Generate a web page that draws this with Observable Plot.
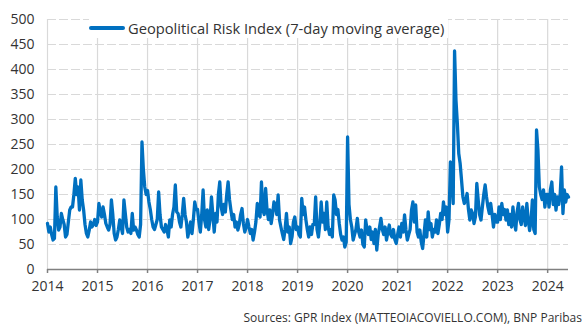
<!DOCTYPE html>
<html>
<head>
<meta charset="utf-8">
<script src="https://cdn.jsdelivr.net/npm/d3@7"></script>
<script src="https://cdn.jsdelivr.net/npm/@observablehq/plot@0.6"></script>
<style>
  html, body { margin: 0; padding: 0; background: #fff; }
  #wrap { position: relative; width: 588px; height: 333px; font-family: "Open Sans", sans-serif; color: #333; }
  #legend { position: absolute; left: 89px; top: 18px; display: flex; align-items: center; font-size: 14.7px; color: #333; background: #fff; padding-right: 4px; }
  #legend .sw { width: 36px; height: 4px; background: #0070c0; border-radius: 2px; margin-right: 3px; }
  #caption { text-align: right; font-size: 12px; line-height: 16px; padding-right: 6px; margin-top: 10px; color: #333; }
</style>
</head>
<body>
<div id="wrap">
  <div id="chart"></div>
  <div id="legend"><span class="sw"></span><span>Geopolitical Risk Index (7-day moving average)</span></div>
  <div id="caption">Sources: GPR Index (MATTEOIACOVIELLO.COM), BNP Paribas</div>
</div>
<script>
// Geopolitical Risk Index, 7-day moving average — ~36 readings per year
const v2014 = [92,75,85, 70,59,62, 165,105,79, 85,112,100, 90,65,70, 95,119,125, 125,150,182, 150,165,119, 179,139,119, 90,72,65, 78,95,85, 90,100,88];
const v2015 = [95,132,115, 105,125,110, 92,85,79, 90,139,110, 72,59,65, 80,99,85, 72,139,112, 85,75,80, 72,112,79, 85,79,70, 65,90,255, 200,165,150];
const v2016 = [158,135,120, 100,85,80, 90,100,155, 110,85,80, 75,90,80, 65,99,85, 110,125,169, 115,112,95, 85,110,142, 110,95,65, 80,95,72, 100,135,120];
const v2017 = [120,95,75, 110,159,100, 85,119,80, 100,145,110, 75,112,95, 150,175,125, 110,130,115, 150,175,140, 119,100,110, 85,95,79, 90,110,122, 92,75,85];
const v2018 = [100,85,72, 80,59,75, 95,132,110, 105,175,119, 110,162,120, 100,119,92, 110,135,130, 110,149,99, 85,72,60, 80,112,75, 85,52,65, 95,105,80];
const v2019 = [85,70,65, 142,110,125, 99,80,65, 85,70,90, 90,145,80, 65,92,135, 95,112,80, 135,85,70, 80,65,149, 139,110,120, 92,70,59, 65,45,55];
const v2020 = [265,130,100, 85,59,70, 80,102,75, 65,79,50, 45,99,80, 70,85,60, 75,52,80, 39,70,85, 102,80,70, 85,59,75, 89,70,65, 80,60,52];
const v2021 = [70,85,65, 92,75,109, 79,59,70, 80,119,135, 95,129,75, 65,79,55, 42,70,99, 65,115,80, 92,65,80, 75,99,72, 90,112,100, 135,110,125];
const v2022 = [75,100,215, 192,132,437, 339,292,232, 212,179,145, 132,140,152, 120,99,119, 112,92,105, 172,139,110, 99,125,150, 169,145,125, 112,132,110, 85,110,95];
const v2023 = [95,125,100, 132,110,120, 99,119,90, 110,85,125, 95,79,115, 132,100,90, 125,105,88, 132,100,78, 95,139,80, 72,279,239, 165,150,140, 159,125,150];
const v2024 = [150,125,160, 175,130,150, 119,145,130, 150,205,112, 159,135,150,145];

const years = [2014, 2015, 2016, 2017, 2018, 2019, 2020, 2021, 2022, 2023, 2024];
const yTicks = [0, 50, 100, 150, 200, 250, 300, 350, 400, 450, 500];
const perYear = 36;

const series = [v2014, v2015, v2016, v2017, v2018, v2019, v2020, v2021, v2022, v2023, v2024];
const data = [];
series.forEach((vals, k) => vals.forEach((v, i) => data.push({t: years[k] + i / perYear, v})));

const chart = Plot.plot({
  width: 588,
  height: 300,
  marginLeft: 47,
  marginRight: 20,
  marginTop: 19,
  marginBottom: 31,
  style: {fontFamily: "'Open Sans', sans-serif", fontSize: "14px", color: "#333", background: "#fff"},
  x: {domain: [2014, 2024 + 15 / perYear]},
  y: {domain: [0, 500]},
  marks: [
    Plot.gridY(yTicks, {stroke: "#d9d9d9", strokeOpacity: 1, strokeWidth: 1.2, strokeDasharray: "9,3"}),
    Plot.gridX(years, {stroke: "#d9d9d9", strokeOpacity: 1, strokeWidth: 1.2}),
    Plot.axisY(yTicks, {tickSize: 0, tickPadding: 13, label: null, fontSize: 14}),
    Plot.axisX(years, {tickSize: 4, tickPadding: 8, stroke: "#808080", strokeWidth: 1.5, label: null, fontSize: 14, tickFormat: d => String(d)}),
    Plot.ruleY([0], {stroke: "#808080", strokeWidth: 1.5}),
    Plot.line(data, {x: "t", y: "v", stroke: "#0070c0", strokeWidth: 3.3, strokeLinejoin: "round"})
  ]
});
document.getElementById("chart").appendChild(chart);
</script>
</body>
</html>
